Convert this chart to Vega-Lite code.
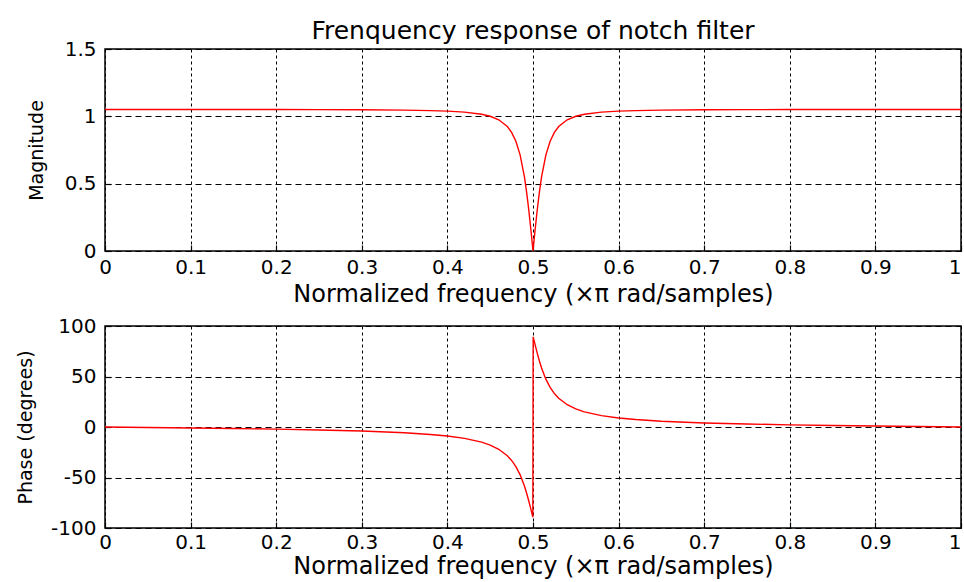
{
  "$schema": "https://vega.github.io/schema/vega-lite/v6.json",
  "autosize": {"type": "pad"},
  "padding": {"left": 15, "top": 18, "right": 0, "bottom": 0},
  "background": "white",
  "bounds": "flush",
  "spacing": 75,
  "data": {
    "values": [
      {"f": 0, "mag": 1.0512, "ph": 0},
      {"f": 0.05, "mag": 1.0512, "ph": -0.47},
      {"f": 0.1, "mag": 1.0511, "ph": -0.95},
      {"f": 0.15, "mag": 1.0509, "ph": -1.5},
      {"f": 0.2, "mag": 1.0505, "ph": -2.13},
      {"f": 0.25, "mag": 1.0499, "ph": -2.93},
      {"f": 0.3, "mag": 1.0486, "ph": -4.03},
      {"f": 0.35, "mag": 1.046, "ph": -5.75},
      {"f": 0.38, "mag": 1.0426, "ph": -7.37},
      {"f": 0.4, "mag": 1.0384, "ph": -8.97},
      {"f": 0.42, "mag": 1.0309, "ph": -11.29},
      {"f": 0.44, "mag": 1.0153, "ph": -15.03},
      {"f": 0.45, "mag": 1.0003, "ph": -17.93},
      {"f": 0.46, "mag": 0.9742, "ph": -22.08},
      {"f": 0.47, "mag": 0.9243, "ph": -28.46},
      {"f": 0.475, "mag": 0.8811, "ph": -33.08},
      {"f": 0.48, "mag": 0.815, "ph": -39.17},
      {"f": 0.485, "mag": 0.712, "ph": -47.38},
      {"f": 0.49, "mag": 0.5497, "ph": -58.48},
      {"f": 0.4925, "mag": 0.4394, "ph": -65.3},
      {"f": 0.495, "mag": 0.3083, "ph": -72.96},
      {"f": 0.4975, "mag": 0.1593, "ph": -81.29},
      {"f": 0.4998, "mag": 0.0129, "ph": -89.3},
      {"f": 0.5, "mag": 0, "ph": 0},
      {"f": 0.5002, "mag": 0.0129, "ph": 89.3},
      {"f": 0.5025, "mag": 0.1593, "ph": 81.29},
      {"f": 0.505, "mag": 0.3083, "ph": 72.96},
      {"f": 0.5075, "mag": 0.4394, "ph": 65.3},
      {"f": 0.51, "mag": 0.5497, "ph": 58.48},
      {"f": 0.515, "mag": 0.712, "ph": 47.38},
      {"f": 0.52, "mag": 0.815, "ph": 39.17},
      {"f": 0.525, "mag": 0.8811, "ph": 33.08},
      {"f": 0.53, "mag": 0.9243, "ph": 28.46},
      {"f": 0.54, "mag": 0.9742, "ph": 22.08},
      {"f": 0.55, "mag": 1.0003, "ph": 17.93},
      {"f": 0.56, "mag": 1.0153, "ph": 15.03},
      {"f": 0.58, "mag": 1.0309, "ph": 11.29},
      {"f": 0.6, "mag": 1.0384, "ph": 8.97},
      {"f": 0.62, "mag": 1.0426, "ph": 7.37},
      {"f": 0.65, "mag": 1.046, "ph": 5.75},
      {"f": 0.7, "mag": 1.0486, "ph": 4.03},
      {"f": 0.75, "mag": 1.0499, "ph": 2.93},
      {"f": 0.8, "mag": 1.0505, "ph": 2.13},
      {"f": 0.85, "mag": 1.0509, "ph": 1.5},
      {"f": 0.9, "mag": 1.0511, "ph": 0.95},
      {"f": 0.95, "mag": 1.0512, "ph": 0.47},
      {"f": 1, "mag": 1.0512, "ph": 0}
    ]
  },
  "vconcat": [
    {
      "width": 856,
      "height": 202,
      "title": {"text": "Frenquency response of notch filter", "font": "DejaVu Sans", "fontSize": 25, "fontWeight": "normal", "color": "black", "offset": -5, "frame": "group", "anchor": "middle"},
      "mark": {"type": "line", "color": "#ff0000", "strokeWidth": 1.4},
      "encoding": {
        "x": {"field": "f", "type": "quantitative", "scale": {"domain": [0, 1], "nice": false, "zero": false},
              "axis": {"values": [0, 0.1, 0.2, 0.3, 0.4, 0.5, 0.6, 0.7, 0.8, 0.9, 1], "format": ".1~f", "title": "Normalized frequency (×π rad/samples)",
                       "labelAlign": {"condition": {"test": "datum.value === 1", "value": "right"}, "value": "center"}}},
        "y": {"field": "mag", "type": "quantitative", "scale": {"domain": [0, 1.5], "nice": false},
              "axis": {"values": [0, 0.5, 1, 1.5], "format": ".1~f", "title": "Magnitude", "titlePadding": 18}}
      }
    },
    {
      "width": 856,
      "height": 202,
      "mark": {"type": "line", "color": "#ff0000", "strokeWidth": 1.4},
      "encoding": {
        "x": {"field": "f", "type": "quantitative", "scale": {"domain": [0, 1], "nice": false, "zero": false},
              "axis": {"values": [0, 0.1, 0.2, 0.3, 0.4, 0.5, 0.6, 0.7, 0.8, 0.9, 1], "format": ".1~f", "title": "Normalized frequency (×π rad/samples)", "labelPadding": 10, "titlePadding": 2,
                       "labelAlign": {"condition": {"test": "datum.value === 1", "value": "right"}, "value": "center"}}},
        "y": {"field": "ph", "type": "quantitative", "scale": {"domain": [-100, 100], "nice": false},
              "axis": {"values": [-100, -50, 0, 50, 100], "labelExpr": "datum.value + ''", "title": "Phase (degrees)", "titlePadding": 15}}
      }
    }
  ],
  "config": {
    "view": {"stroke": "black", "strokeWidth": 1.5},
    "axis": {
      "domain": false,
      "grid": true,
      "gridColor": "black",
      "gridOpacity": 1,
      "gridWidth": 1,
      "tickColor": "black",
      "tickSize": -6,
      "tickWidth": 1.2,
      "labelFont": "DejaVu Sans",
      "labelFontSize": 20,
      "labelColor": "black",
      "labelFlush": false,
      "labelOverlap": false,
      "titleFont": "DejaVu Sans",
      "titleFontWeight": "normal",
      "titleColor": "black"
    },
    "axisX": {"gridDash": [3, 3], "labelPadding": 12, "titleFontSize": 24, "titlePadding": 5},
    "axisY": {"gridDash": [6, 4], "labelPadding": 15, "titleFontSize": 19}
  }
}
